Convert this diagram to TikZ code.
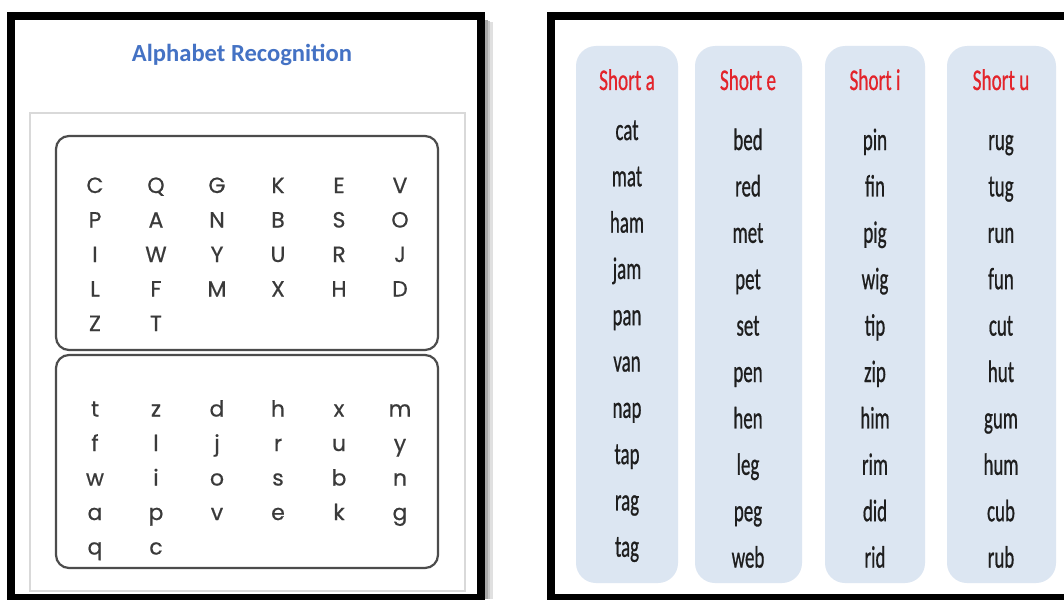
\documentclass[tikz,border=0pt]{standalone}
\usepackage{fontspec}
\setmainfont{Carlito}
\newfontfamily\popp{Poppins}[FakeBold=0.6]
\newfontfamily\wordfont{Carlito}[FakeBold=0.9]
\definecolor{titleblue}{HTML}{4472C4}
\definecolor{hdrred}{HTML}{E3242B}
\definecolor{colfill}{HTML}{DCE6F2}
\definecolor{lettergray}{HTML}{3A3A3A}
\definecolor{wordgray}{HTML}{1E1E1E}
\begin{document}
\begin{tikzpicture}[x=1pt,y=-1pt,
  frame/.style={draw=black,line width=8pt},
  letterbox/.style={draw=black!70,line width=2.2pt,rounded corners=13pt},
  vowelcol/.style={fill=colfill,rounded corners=20pt},
  glyph/.style={anchor=base,inner sep=0pt,text=lettergray,font=\popp\fontsize{22}{22}\selectfont},
  hdr/.style={anchor=base,inner sep=0pt,text=hdrred,font=\wordfont\fontsize{30}{30}\selectfont},
  word/.style={anchor=base,inner sep=0pt,text=wordgray,font=\wordfont\fontsize{31}{31}\selectfont}]
\useasboundingbox (0,0) rectangle (1064,599);
\clip (0,0) rectangle (1064,599);
\fill[white] (0,0) rectangle (1064,599);
% ---------- left panel ----------
\fill[black!12] (485,22) rectangle (493,599);
\fill[black!22] (485,21) rectangle (490,599);
\fill[black!35] (485,20) rectangle (487.5,599);
\draw[frame] (11,16) rectangle (481,598);
\draw[black!15,line width=1.5pt] (30,113) rectangle (465,591);
\node[anchor=base,text=titleblue,font=\bfseries\fontsize{24.6}{25}\selectfont] (title) at (242,62) {Alphabet Recognition};
\draw[letterbox] (56,136) rectangle (438,350);
\draw[letterbox] (56,355) rectangle (438,568);
\foreach \row [count=\r] in {{C,Q,G,K,E,V},{P,A,N,B,S,O},{I,W,Y,U,R,J},{L,F,M,X,H,D},{Z,T}} {
  \foreach \ch [count=\c] in \row {
    \node[glyph] (U\r-\c) at ({95+61*(\c-1)},{193+34.5*(\r-1)}) {\ch};
  }
}
\foreach \row [count=\r] in {{t,z,d,h,x,m},{f,l,j,r,u,y},{w,i,o,s,b,n},{a,p,v,e,k,g},{q,c}} {
  \foreach \ch [count=\c] in \row {
    \node[glyph] (L\r-\c) at ({95+61*(\c-1)},{416.5+34.5*(\r-1)}) {\ch};
  }
}
% ---------- right panel ----------
\draw[frame] (551,16) rectangle (1075,598);
\fill[vowelcol] (576,46) rectangle (678,583);
\fill[vowelcol] (695,46) rectangle (802,583);
\fill[vowelcol] (825,46) rectangle (925,583);
\fill[vowelcol] (947,46) rectangle (1056,583);
\node[hdr] (ha) at (627,90) {\scalebox{0.64}[1]{Short a}};
\node[hdr] (he) at (748,90) {\scalebox{0.64}[1]{Short e}};
\node[hdr] (hi) at (875,90) {\scalebox{0.64}[1]{Short i}};
\node[hdr] (hu) at (1001,90) {\scalebox{0.64}[1]{Short u}};
\foreach \w [count=\k] in {cat,mat,ham,jam,pan,van,nap,tap,rag,tag}
  \node[word] (a\k) at (627,{140+46.3*(\k-1)}) {\scalebox{0.61}[1]{\w}};
\foreach \w [count=\k] in {bed,red,met,pet,set,pen,hen,leg,peg,web}
  \node[word] (e\k) at (748,{150+46.4*(\k-1)}) {\scalebox{0.61}[1]{\w}};
\foreach \w [count=\k] in {pin,fin,pig,wig,tip,zip,him,rim,did,rid}
  \node[word] (i\k) at (875,{150+46.4*(\k-1)}) {\scalebox{0.61}[1]{\w}};
\foreach \w [count=\k] in {rug,tug,run,fun,cut,hut,gum,hum,cub,rub}
  \node[word] (u\k) at (1001,{150+46.4*(\k-1)}) {\scalebox{0.61}[1]{\w}};
\end{tikzpicture}
\end{document}
